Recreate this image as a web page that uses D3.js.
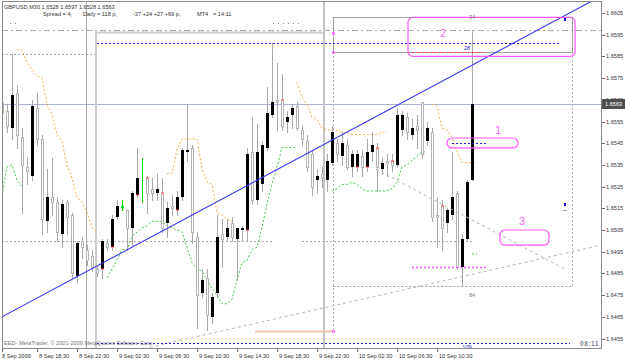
<!DOCTYPE html>
<html lang="en">
<head>
<meta charset="utf-8">
<title>GBPUSD M30</title>
<script src="https://cdn.jsdelivr.net/npm/d3@7"></script>
<style>
body{margin:0;background:#fff;}
svg{display:block;font-family:"Liberation Sans",Arial,sans-serif;}
</style>
</head>
<body>
<script>

// M30 bars, 8 Sep 15:00 .. 10 Sep 14:00
let opens = [1.6564,1.6560,1.6552,1.6568,1.6548,1.6534,1.6530,1.6561,1.6547,1.6509,
 1.6520,1.6518,1.6503,1.6518,1.6512,1.6484,1.6500,1.6496,1.6493,1.6487,
 1.6487,1.6499,1.6497,1.6511,1.6515,1.6514,1.6506,1.6521,1.6531,1.6529,
 1.6524,1.6522,1.6522,1.6508,1.6516,1.6514,1.6520,1.6541,1.6543,1.6502,
 1.6476,1.6483,1.6465,1.6476,1.6503,1.6502,1.6508,1.6501,1.6505,1.6505,
 1.6541,1.6519,1.6526,1.6543,1.6558,1.6565,1.6565,1.6555,1.6558,1.6562,
 1.6551,1.6546,1.6540,1.6528,1.6531,1.6528,1.6536,1.6545,1.6539,1.6544,
 1.6534,1.6534,1.6539,1.6534,1.6541,1.6543,1.6533,1.6537,1.6537,1.6535,
 1.6551,1.6557,1.6549,1.6553,1.6564,1.6546,1.6550,1.6512,1.6516,1.6508,
 1.6512,1.6522,1.6488,1.6501,1.6528];
let highs = [1.6565,1.6563,1.6586,1.6572,1.6552,1.6538,1.6565,1.6568,1.6549,1.6533,
 1.6538,1.6520,1.6519,1.6519,1.6513,1.6500,1.6502,1.6498,1.6496,1.6489,
 1.6501,1.6501,1.6512,1.6519,1.6519,1.6514,1.6523,1.6543,1.6538,1.6530,
 1.6529,1.6531,1.6529,1.6518,1.6521,1.6523,1.6543,1.6563,1.6544,1.6504,
 1.6487,1.6487,1.6476,1.6512,1.6510,1.6510,1.6511,1.6506,1.6507,1.6543,
 1.6557,1.6554,1.6546,1.6571,1.6591,1.6582,1.6577,1.6560,1.6563,1.6564,
 1.6553,1.6549,1.6542,1.6533,1.6534,1.6540,1.6553,1.6547,1.6550,1.6547,
 1.6542,1.6542,1.6542,1.6547,1.6550,1.6545,1.6538,1.6540,1.6540,1.6561,
 1.6560,1.6559,1.6556,1.6558,1.6564,1.6555,1.6552,1.6520,1.6519,1.6515,
 1.6541,1.6523,1.6503,1.6528,1.6597];
let lows = [1.6558,1.6550,1.6547,1.6543,1.6513,1.6526,1.6528,1.6544,1.6503,1.6504,
 1.6512,1.6500,1.6497,1.6503,1.6483,1.6481,1.6492,1.6489,1.6486,1.6484,
 1.6483,1.6496,1.6496,1.6510,1.6514,1.6496,1.6498,1.6520,1.6518,1.6513,
 1.6519,1.6519,1.6504,1.6502,1.6512,1.6512,1.6519,1.6537,1.6499,1.6460,
 1.6474,1.6459,1.6462,1.6474,1.6488,1.6500,1.6500,1.6482,1.6500,1.6500,
 1.6517,1.6517,1.6523,1.6542,1.6557,1.6551,1.6551,1.6550,1.6552,1.6551,
 1.6544,1.6532,1.6521,1.6522,1.6525,1.6523,1.6535,1.6537,1.6535,1.6533,
 1.6530,1.6532,1.6530,1.6532,1.6537,1.6523,1.6531,1.6530,1.6532,1.6534,
 1.6549,1.6547,1.6547,1.6543,1.6538,1.6544,1.6509,1.6497,1.6496,1.6504,
 1.6510,1.6487,1.6479,1.6500,1.6528];
let closes = [1.6559,1.6553,1.6567,1.6549,1.6535,1.6532,1.6562,1.6547,1.6510,1.6520,
 1.6518,1.6504,1.6517,1.6511,1.6485,1.6499,1.6497,1.6491,1.6488,1.6485,
 1.6500,1.6497,1.6510,1.6516,1.6516,1.6506,1.6522,1.6529,1.6531,1.6522,
 1.6522,1.6524,1.6506,1.6515,1.6515,1.6520,1.6542,1.6542,1.6504,1.6475,
 1.6482,1.6466,1.6474,1.6502,1.6501,1.6506,1.6502,1.6506,1.6506,1.6540,
 1.6519,1.6541,1.6544,1.6559,1.6564,1.6564,1.6553,1.6557,1.6561,1.6552,
 1.6547,1.6534,1.6525,1.6530,1.6529,1.6537,1.6550,1.6540,1.6545,1.6534,
 1.6540,1.6540,1.6534,1.6541,1.6544,1.6534,1.6536,1.6536,1.6535,1.6558,
 1.6558,1.6550,1.6552,1.6551,1.6540,1.6552,1.6511,1.6511,1.6506,1.6514,
 1.6520,1.6488,1.6501,1.6527,1.6563];

let greenBars = [24, 28];
let redMarks = [20, 22, 27, 29, 32, 35, 49, 56, 71, 73, 75, 78, 88];

// stepped indicator lines: [first bar, values]
let orangeSegs = [
 [3, [1.6588,1.6588,1.6582,1.6579,1.6576,1.6575,1.6563,1.6558,1.6549,1.6546,1.6535,1.6529,1.6520,1.6518,1.6513,1.6506,1.6504]],
 [33, [1.6531,1.6531,1.6542,1.6547,1.6547,1.6547,1.6547,1.6533,1.6527,1.6526,1.6513,1.6512,1.6510,1.6509]],
 [59, [1.6573,1.6566,1.6563,1.6557,1.6556,1.6552,1.6551,1.6551,1.6551,1.6550,1.6550,1.6549,1.6549,1.6549,1.6549,1.6549,1.6549,1.6550,1.6550]],
 [86, [1.6563,1.6562,1.6552,1.6551,1.6548,1.6541,1.6536,1.6536,1.6536,1.6536]]
];
let greenSegs = [
 [0, [1.6521,1.6534,1.6535,1.6528,1.6525]],
 [21, [1.6483,1.6487,1.6491,1.6496,1.6496,1.6502,1.6504,1.6506,1.6507,1.6509,1.6509,1.6509,1.6507,1.6506,1.6505,1.6504,1.6497,1.6490,1.6487,1.6486,1.6482,1.6478,1.6475,1.6471,1.6471,1.6473,1.6482,1.6490,1.6491,1.6496,1.6497,1.6506,1.6517,1.6526,1.6534,1.6543,1.6543,1.6543,1.6543]],
 [66, [1.6523,1.6524,1.6526,1.6526,1.6527,1.6526,1.6524,1.6523,1.6523,1.6523,1.6523,1.6523,1.6524,1.6527,1.6534,1.6535,1.6537,1.6539,1.6541,1.6541]],
 [94, [1.6494,1.6494]]
];

// axis
let priceTicks = d3.range(1.6455, 1.66051, 0.001);
let timeTicks = [0, 7, 15, 23, 31, 39, 47, 55, 63, 71, 79, 87];
let timeLabels = ["8 Sep 2009","8 Sep 18:30","8 Sep 22:30","9 Sep 02:30","9 Sep 06:30","9 Sep 10:30",
 "9 Sep 14:30","9 Sep 18:30","9 Sep 22:30","10 Sep 02:30","10 Sep 06:30","10 Sep 10:30"];

// chart objects: [from bar, to bar, price]
let grayDotLevels = [[0, 54, 1.6500], [60, 94, 1.6500], [0, 18.8, 1.6586], [66.2, 114, 1.6479]];
let blueDotLevels = [[19, 111.6, 1.6591], [19, 113.6, 1.6453], [90, 97, 1.6545]];
let redDotLevels = [[81.2, 96.6, 1.6587]];
let pinkDotLevels = [[82, 96.8, 1.6488]];
let dayHigh = 1.6597;
let vLines = [16.8];
let trendLine = [[0, 1.6465], [120, 1.6613]];
let grayDiagonals = [[[29.6, 1.6451], [119.8, 1.6498]], [[74.8, 1.6533], [112.6, 1.6487]]];
let sessionBox = [18.8, 64.4, 1.6596];
let rangeBox = [66.2, 114, 1.6603, 1.6587];
let pinkBoxes = [[81.2, 114.6, 1.6603, 1.6585, "2", 88.2, 1.6596],
                 [89, 103.2, 1.65474, 1.65428, "1", 99.2, 1.6551],
                 [99.6, 109.4, 1.6505, 1.6498, "3", 104, 1.6509]];
let smallLabels = [[94, 1.6603, "34", "#808080"], [93, 1.6589, "28", "#2222cc"],
                   [94, 1.6475, "84", "#808080"], [93, 1.6451, "109", "#2222cc"]];
let salmonLine = [50.6, 66.2, 1.64585];

let fmt = d3.format(".4f");
let last = opens.length - 1;

let svg = d3.select("body").append("svg").attr("width", 625).attr("height", 361);
svg.append("rect").attr("width", 625).attr("height", 361).attr("fill", "#fff");

let x = d3.scaleLinear().domain([0, 1]).range([2, 7]);
let y = d3.scaleLinear().domain([1.6455, 1.6605]).range([338.5, 13]);
function px(i){ return Math.round(x(i)) + 0.5; }
function py(p){ return Math.round(y(p)) + 0.5; }

svg.append("clipPath").attr("id", "plotclip").append("rect")
   .attr("x", 2).attr("y", 1).attr("width", 599).attr("height", 347);
let plot = svg.append("g").attr("clip-path", "url(#plotclip)");

function hseg(from, to, price, color, dash, width){
    plot.append("line")
        .attr("x1", x(from)).attr("x2", x(to))
        .attr("y1", py(price)).attr("y2", py(price))
        .attr("stroke", color).attr("stroke-width", width || 1)
        .attr("stroke-dasharray", dash);
}

// header
let header = svg.append("g").attr("font-size", 5.6).attr("fill", "#333");
header.append("text").attr("x", 4).attr("y", 9)
      .text("GBPUSD,M30 " + [opens[last], highs[last], lows[last], closes[last]].map(fmt).join(" "));
let headerBits = [[43, "Spread = 4,"], [83, "Daily"], [97, "= 118 p,"], [133, "-37 +24 +27 +69 p,"], [197, "MT4"], [213, "= 14:11"]];
header.selectAll("text.h2").data(headerBits).enter().append("text")
      .attr("x", d => d[0]).attr("y", 16).text(d => d[1]);
[10, 15, 273, 278, 283, 288, 293, 298].forEach(function(d){
    svg.append("rect").attr("x", d).attr("y", 23).attr("width", 1).attr("height", 1).attr("fill", "#888");
});

// levels and boxes under the candles
hseg(0, 125, dayHigh, "#a8a8a8", "6,3,2,3");
grayDotLevels.forEach(d => hseg(d[0], d[1], d[2], "#a8a8a8", "2,2"));
hseg(0, 125, closes[last], "#a9b3d6", null);

vLines.forEach(function(d){
    plot.append("line").attr("x1", px(d)).attr("x2", px(d)).attr("y1", 0).attr("y2", 350)
        .attr("stroke", "#a8a8a8");
});
// session rectangle
plot.append("path")
    .attr("d", "M" + x(sessionBox[0]) + ",350V" + y(sessionBox[2]) + "H" + x(sessionBox[1]) + "V350")
    .attr("fill", "none").attr("stroke", "#cdcdcd").attr("stroke-width", 2);
plot.append("line").attr("x1", x(sessionBox[1])).attr("x2", x(sessionBox[1])).attr("y1", 0).attr("y2", 350)
    .attr("stroke", "#c4c4c4").attr("stroke-width", 2);

// range box with dotted lower part
plot.append("rect").attr("x", px(rangeBox[0])).attr("y", py(rangeBox[2]))
    .attr("width", Math.round(x(rangeBox[1]) - x(rangeBox[0]))).attr("height", Math.round(y(rangeBox[3]) - y(rangeBox[2])))
    .attr("fill", "none").attr("stroke", "#a0a0a0");
plot.append("line").attr("x1", px(rangeBox[0])).attr("x2", px(rangeBox[0]))
    .attr("y1", y(rangeBox[3])).attr("y2", y(salmonLine[2]))
    .attr("stroke", "#b0b0b0").attr("stroke-dasharray", "2,2");
plot.append("line").attr("x1", px(rangeBox[1])).attr("x2", px(rangeBox[1]))
    .attr("y1", y(rangeBox[3])).attr("y2", y(grayDotLevels[3][2]))
    .attr("stroke", "#b0b0b0").attr("stroke-dasharray", "2,2");

// salmon line and pink ticks
hseg(salmonLine[0], salmonLine[1], salmonLine[2], "#f5c2ae", null, 2);
[rangeBox[2] - 0.0007, rangeBox[3], salmonLine[2]].forEach(function(p){
    plot.append("line").attr("x1", x(rangeBox[0]) - 1).attr("x2", x(rangeBox[0]) + 2)
        .attr("y1", py(p)).attr("y2", py(p)).attr("stroke", "#ff55ff").attr("stroke-width", 2);
});

// indicator lines
let seg = d3.line().x(d => x(d[0])).y(d => y(d[1]));
function drawSegs(segs, color){
    segs.forEach(function(s){
        let pts = s[1].map((v, k) => [s[0] + k, v]);
        plot.append("path").attr("d", seg(pts)).attr("fill", "none")
            .attr("stroke", color).attr("stroke-width", 1).attr("stroke-dasharray", "2,2");
    });
}
drawSegs(orangeSegs, "#f2b24a");
drawSegs(greenSegs, "#44c844");

// candles
let bars = d3.range(opens.length);
let candles = plot.append("g");
candles.selectAll("line.wick").data(bars).enter().append("line")
    .attr("x1", d => px(d)).attr("x2", d => px(d))
    .attr("y1", d => Math.round(y(highs[d]))).attr("y2", d => Math.round(y(lows[d])) + 1)
    .attr("stroke", d => greenBars.includes(d) ? "#00e000" : "#a8a8a8");
candles.selectAll("rect.body").data(bars).enter().append("rect")
    .attr("x", d => closes[d] > opens[d] ? Math.round(x(d)) - 1 : Math.round(x(d)) - 0.5)
    .attr("width", d => closes[d] > opens[d] ? 3 : 2)
    .attr("y", function(d){
        let top = Math.round(y(Math.max(opens[d], closes[d])));
        return closes[d] > opens[d] ? top : top + 0.5;
    })
    .attr("height", function(d){
        let hh = Math.round(y(Math.min(opens[d], closes[d]))) - Math.round(y(Math.max(opens[d], closes[d])));
        return closes[d] > opens[d] ? Math.max(1, hh) : Math.max(0, hh);
    })
    .attr("fill", d => closes[d] > opens[d] ? (greenBars.includes(d) ? "#00e000" : "#000") : "#fff")
    .attr("stroke", d => closes[d] > opens[d] ? "none" : (greenBars.includes(d) ? "#00e000" : "#b4b4b4"));
candles.selectAll("rect.red").data(redMarks).enter().append("rect")
    .attr("x", d => Math.round(x(d)) - 1).attr("width", 3)
    .attr("y", d => Math.round(y(opens[d])) - 0.5).attr("height", 1)
    .attr("fill", "#ff4a4a");

// objects over the candles
blueDotLevels.forEach(d => hseg(d[0], d[1], d[2], "#2020c8", "2,2"));
redDotLevels.forEach(d => hseg(d[0], d[1], d[2], "#ff4040", "2,2"));
pinkDotLevels.forEach(d => hseg(d[0], d[1], d[2], "#ff55ff", "2,2", 1.5));
plot.append("line").attr("x1", px(rangeBox[0])).attr("x2", px(rangeBox[1]))
    .attr("y1", py(grayDotLevels[3][2])).attr("y2", py(grayDotLevels[3][2]))
    .attr("stroke", "#b0b0b0").attr("stroke-dasharray", "2,2");

grayDiagonals.forEach(function(d){
    plot.append("line").attr("x1", x(d[0][0])).attr("y1", y(d[0][1]))
        .attr("x2", x(d[1][0])).attr("y2", y(d[1][1]))
        .attr("stroke", "#b8b8b8").attr("stroke-dasharray", "3,3");
});
plot.append("line").attr("x1", x(trendLine[0][0])).attr("y1", y(trendLine[0][1]))
    .attr("x2", x(trendLine[1][0])).attr("y2", y(trendLine[1][1]))
    .attr("stroke", "#3a3af0").attr("stroke-width", 1.1);

pinkBoxes.forEach(function(b){
    plot.append("rect").attr("x", x(b[0])).attr("y", y(b[2]))
        .attr("width", x(b[1]) - x(b[0])).attr("height", y(b[3]) - y(b[2]))
        .attr("rx", 5).attr("ry", 5)
        .attr("fill", "none").attr("stroke", "#ff55ff").attr("stroke-width", 1.2);
    plot.append("text").attr("x", x(b[5])).attr("y", y(b[6]) + 4)
        .attr("text-anchor", "middle").attr("font-size", 11).attr("fill", "#ff66ff").text(b[4]);
});
smallLabels.forEach(function(d){
    plot.append("text").attr("x", x(d[0])).attr("y", y(d[1]) + 2)
        .attr("text-anchor", "middle").attr("font-size", 5.6).attr("fill", d[3]).text(d[2]);
});
// arrow dots at the right
[[112.6, 1.66018, "#1010cc"], [112.6, 1.65165, "#1010cc"]].forEach(function(d){
    plot.append("rect").attr("x", Math.round(x(d[0])) - 1).attr("y", Math.round(y(d[1])) - 2)
        .attr("width", 2).attr("height", 3).attr("fill", d[2]);
});
hseg(112.2, 113, 1.6514, "#a0a0a0", null);

// copyright and timer
svg.append("text").attr("x", 4).attr("y", 345).attr("font-size", 5.6).attr("fill", "#777")
   .text("EED- MetaTrader, \u00a9 2001-2009 MetaQuotes Software Corp.");
svg.append("text").attr("x", 580).attr("y", 346).attr("font-size", 6.4).attr("font-weight", "bold")
   .attr("letter-spacing", 0.6).attr("fill", "#7a8494").text("08:11");

// frame
svg.append("rect").attr("x", 2.5).attr("y", 1.5).attr("width", 599).attr("height", 347)
   .attr("fill", "none").attr("stroke", "#8a8a8a");

// price axis
let pa = svg.append("g").attr("font-size", 5.6).attr("fill", "#333");
pa.selectAll("line").data(priceTicks).enter().append("line")
  .attr("x1", 602).attr("x2", 605).attr("y1", d => py(d)).attr("y2", d => py(d)).attr("stroke", "#666");
pa.selectAll("text").data(priceTicks).enter().append("text")
  .attr("x", 606).attr("y", d => y(d) + 2).text(d => fmt(d));
pa.append("rect").attr("x", 602).attr("y", Math.round(y(closes[last])) - 5).attr("width", 23).attr("height", 10)
  .attr("fill", "#4f4f4f");
pa.append("text").attr("x", 605).attr("y", y(closes[last]) + 2).attr("fill", "#fff").text(fmt(closes[last]));

// time axis
let ta = svg.append("g").attr("font-size", 5.6).attr("fill", "#333");
ta.selectAll("line").data(timeTicks).enter().append("line")
  .attr("x1", d => px(d)).attr("x2", d => px(d)).attr("y1", 349).attr("y2", 352).attr("stroke", "#666");
ta.selectAll("text").data(timeTicks).enter().append("text")
  .attr("x", (d, i) => i === 0 ? 2 : x(d) + 2).attr("y", 358).text((d, i) => timeLabels[i]);

</script>
</body>
</html>
